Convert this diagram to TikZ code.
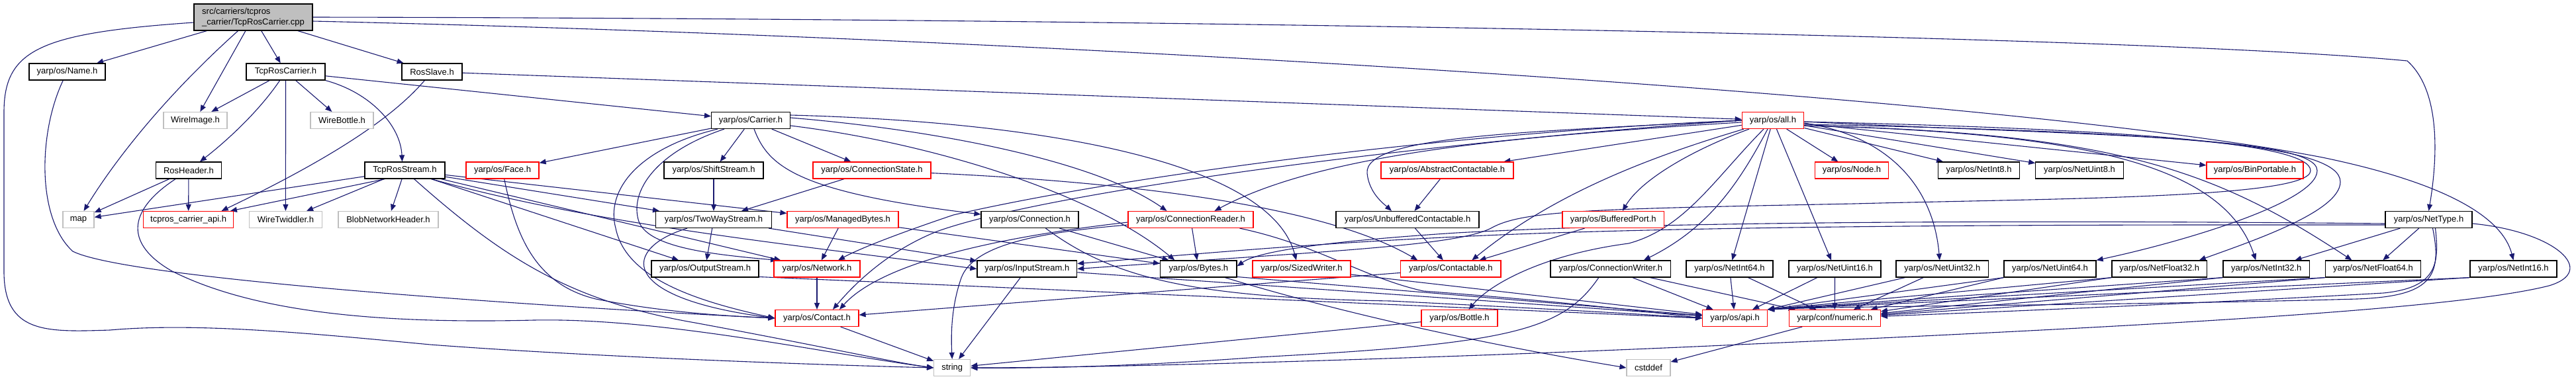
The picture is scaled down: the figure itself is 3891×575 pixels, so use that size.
\documentclass[tikz,border=0pt]{standalone}
\usepackage{fontspec}
\setmainfont{Liberation Sans}
\usetikzlibrary{arrows.meta}
\pgfdeclarelayer{bg}
\pgfsetlayers{bg,main}
\definecolor{edgec}{HTML}{191970}
\definecolor{redc}{HTML}{FF0000}
\definecolor{grayc}{HTML}{BFBFBF}
\begin{document}
\begin{tikzpicture}[x=0.5pt,y=-0.5pt,
  font=\fontsize{6.5pt}{8.3pt}\selectfont,
  box/.style={line width=0.6pt, fill=white, inner sep=0pt, minimum height=12.5pt},
  kbox/.style={box, draw=black},
  rbox/.style={box, draw=redc},
  gbox/.style={box, draw=grayc},
  bw/.style={minimum width=#1*0.5pt},
  ed/.style={draw=edgec, line width=0.55pt, -{Triangle[length=5pt,width=4pt]}}]
\useasboundingbox (0,0) rectangle (3891,575);
\begin{pgfonlayer}{bg}
\fill[white] (0,0) rectangle (3891,575);
\end{pgfonlayer}
% nodes
\node[draw=black, fill=grayc, line width=0.6pt, inner sep=0pt, minimum width=89.5pt, minimum height=20pt, align=left] (root) at (382.5,26) {src/carriers/tcpros\\\_carrier/TcpRosCarrier.cpp};
\node[kbox,bw=115] (name) at (101.5,108.5) {yarp/os/Name.h};
\node[kbox,bw=119] (trc) at (431.5,108.5) {TcpRosCarrier.h};
\node[kbox,bw=91] (rosslave) at (652.5,108.5) {RosSlave.h};
\node[gbox,bw=96] (wireimage) at (295,182) {WireImage.h};
\node[gbox,bw=95] (wirebottle) at (516.5,182) {WireBottle.h};
\node[kbox,bw=119] (carrier) at (1134,182) {yarp/os/Carrier.h};
\node[rbox,bw=93.5] (allh) at (2678,182) {yarp/os/all.h};
\node[kbox,bw=98.5] (rosheader) at (285,257.5) {RosHeader.h};
\node[kbox,bw=121] (trs) at (611.5,257.5) {TcpRosStream.h};
\node[rbox,bw=110] (face) at (759,257.5) {yarp/os/Face.h};
\node[kbox,bw=150] (shift) at (1078,257.5) {yarp/os/ShiftStream.h};
\node[rbox,bw=178] (connstate) at (1317,257.5) {yarp/os/ConnectionState.h};
\node[rbox,bw=200] (abscont) at (2186,257.5) {yarp/os/AbstractContactable.h};
\node[rbox,bw=111] (nodeh) at (2797,257.5) {yarp/os/Node.h};
\node[kbox,bw=123.5] (netint8) at (2989,257.5) {yarp/os/NetInt8.h};
\node[kbox,bw=132.5] (netuint8) at (3141,257.5) {yarp/os/NetUint8.h};
\node[rbox,bw=146] (binport) at (3406,257.5) {yarp/os/BinPortable.h};
\node[gbox,bw=47] (map) at (118.5,332) {map};
\node[rbox,bw=136.4] (tcpapi) at (284.6,332) {tcpros\_carrier\_api.h};
\node[gbox,bw=110] (wiretw) at (431.4,332) {WireTwiddler.h};
\node[gbox,bw=151] (blob) at (586.5,332) {BlobNetworkHeader.h};
\node[kbox,bw=174.6] (twoway) at (1078,332) {yarp/os/TwoWayStream.h};
\node[rbox,bw=168] (managed) at (1273,332) {yarp/os/ManagedBytes.h};
\node[kbox,bw=147] (connection) at (1555.5,332) {yarp/os/Connection.h};
\node[rbox,bw=189] (connreader) at (1798.5,332) {yarp/os/ConnectionReader.h};
\node[kbox,bw=216] (unbuf) at (2126,332) {yarp/os/UnbufferedContactable.h};
\node[rbox,bw=153.5] (bufport) at (2436.7,332) {yarp/os/BufferedPort.h};
\node[kbox,bw=131] (nettype) at (3668.5,332) {yarp/os/NetType.h};
\node[kbox,bw=162] (output) at (1065,406.5) {yarp/os/OutputStream.h};
\node[rbox,bw=130] (network) at (1234,406.5) {yarp/os/Network.h};
\node[kbox,bw=150.7] (input) at (1551.3,406.5) {yarp/os/InputStream.h};
\node[kbox,bw=115.4] (bytes) at (1810.3,406.5) {yarp/os/Bytes.h};
\node[rbox,bw=148] (sized) at (1966,406.5) {yarp/os/SizedWriter.h};
\node[rbox,bw=151.3] (contactable) at (2191.3,406.5) {yarp/os/Contactable.h};
\node[kbox,bw=181.6] (connwriter) at (2432.8,406.5) {yarp/os/ConnectionWriter.h};
\node[kbox,bw=131] (netint64) at (2612.5,406.5) {yarp/os/NetInt64.h};
\node[kbox,bw=139] (netuint16) at (2771.5,406.5) {yarp/os/NetUint16.h};
\node[kbox,bw=139.6] (netuint32) at (2933.8,406.5) {yarp/os/NetUint32.h};
\node[kbox,bw=139] (netuint64) at (3096.5,406.5) {yarp/os/NetUint64.h};
\node[kbox,bw=143.5] (netfloat32) at (3261.7,406.5) {yarp/os/NetFloat32.h};
\node[kbox,bw=130.7] (netint32) at (3423.3,406.5) {yarp/os/NetInt32.h};
\node[kbox,bw=144] (netfloat64) at (3584.5,406.5) {yarp/os/NetFloat64.h};
\node[kbox,bw=131] (netint16) at (3796.5,406.5) {yarp/os/NetInt16.h};
\node[rbox,bw=126] (contact) at (1234,481) {yarp/os/Contact.h};
\node[rbox,bw=115] (bottle) at (2204.5,481) {yarp/os/Bottle.h};
\node[rbox,bw=97.7] (api) at (2620.5,481) {yarp/os/api.h};
\node[rbox,bw=138] (numeric) at (2771.3,481) {yarp/conf/numeric.h};
\node[gbox,bw=55] (string) at (1438.2,556) {string};
\node[gbox,bw=66] (cstddef) at (2490,556) {cstddef};
% edges
\begin{pgfonlayer}{bg}
% root
\draw[ed] (root) -- (name);
\draw[ed] (root) .. controls (250,145) and (175,240) .. (map);
\draw[ed] (root) -- (wireimage);
\draw[ed] (root) -- (trc);
\draw[ed] (root) -- (rosslave);
\draw[ed] ([yshift=-4pt]root.west) .. controls (60,50) and (6,75) .. (6,170) -- (6,410) .. controls (6,505) and (70,502) .. (166,499) .. controls (300,487) and (480,505) .. (650,521) .. controls (900,540) and (1250,552) .. (string.west);
\draw[ed] (root.east) .. controls (1800,28) and (3250,55) .. (3636,92) .. controls (3690,140) and (3680,250) .. (nettype.north);
\draw[ed] ([yshift=-3pt]root.east) .. controls (1500,55) and (3000,140) .. (3508,238) .. controls (3700,278) and (3780,330) .. (netint16.north);
% name
\draw[ed] (name) .. controls (58,200) and (55,330) .. (110,380) .. controls (200,425) and (900,468) .. (contact.west);
% TcpRosCarrier.h
\draw[ed] (trc) -- (wireimage);
\draw[ed] (trc) .. controls (390,170) and (340,215) .. (rosheader);
\draw[ed] (trc) -- (wiretw);
\draw[ed] (trc) -- (wirebottle);
\draw[ed] (trc.south east) .. controls (560,140) and (605,190) .. ([xshift=-2pt]trs.north);
\draw[ed] (trc) -- (carrier);
% RosSlave.h
\draw[ed] (rosslave) -- (allh);
\draw[ed] (rosslave) .. controls (600,170) and (520,230) .. ([xshift=25pt]tcpapi.north);
% RosHeader.h
\draw[ed] (rosheader) -- (map);
\draw[ed] (rosheader) -- (tcpapi);
\draw[ed] (rosheader) .. controls (190,320) and (190,370) .. (260,410) .. controls (380,470) and (560,490) .. (806,484) .. controls (1000,480) and (1250,535) .. (string.west);
% TcpRosStream.h
\draw[ed] (trs) -- (map);
\draw[ed] ([xshift=-15pt]trs.south) -- (tcpapi);
\draw[ed] (trs) -- (wiretw);
\draw[ed] (trs) -- (blob);
\draw[ed] ([xshift=7pt]trs.south) .. controls (760,390) and (860,455) .. (1050,488) .. controls (1250,525) and (1350,548) .. (string.west);
\draw[ed] (trs) -- (managed);
\draw[ed] (trs) -- (twoway);
\draw[ed] (trs) -- (output);
\draw[ed] (trs) -- (network);
\draw[ed] ([xshift=20pt]trs.south) .. controls (900,340) and (1200,370) .. (input.west);
% Carrier.h
\draw[ed] (carrier) -- (face);
\draw[ed] (carrier) -- (shift);
\draw[ed] (carrier) -- (connstate);
\draw[ed] ([xshift=-25pt]carrier.south) .. controls (960,225) and (915,290) .. (930,345) .. controls (945,420) and (1050,455) .. (contact.west);
\draw[ed] ([xshift=-20pt]carrier.south) .. controls (990,230) and (950,290) .. (965,335) .. controls (980,375) and (1080,385) .. ([xshift=-30pt]network.north);
\draw[ed] (carrier) .. controls (1160,250) and (1200,290) .. ([yshift=4pt]connection.west);
\draw[ed] ([yshift=-4pt]carrier.east) .. controls (1400,215) and (1650,290) .. ([xshift=-18pt]bytes.north);
\draw[ed] ([yshift=2pt]carrier.east) .. controls (1400,195) and (1650,240) .. ([xshift=-18pt]connreader.north);
\draw[ed] ([yshift=4pt]carrier.east) .. controls (1600,185) and (1920,250) .. ([xshift=-4pt]sized.north);
% row 3 middle
\draw[ed] (shift) -- (twoway);
\draw[ed] (connstate) -- (twoway);
\draw[ed] (connstate) .. controls (1700,275) and (2000,310) .. ([xshift=-25pt]contactable.north);
\draw[ed] (face) .. controls (780,360) and (810,430) .. (900,452) .. controls (1000,472) and (1100,478) .. (contact.west);
% TwoWayStream.h
\draw[ed] (twoway) -- (output);
\draw[ed] (twoway) -- (input);
\draw[ed] ([xshift=-20pt]twoway.south) .. controls (940,375) and (930,450) .. (contact.west);
% ManagedBytes.h
\draw[ed] (managed) -- (network);
\draw[ed] (managed) -- (bytes);
\draw[ed] (network) -- (contact);
% Connection.h
\draw[ed] (connection) -- (bytes);
\draw[ed] ([xshift=12pt]connection.south) .. controls (1680,420) and (1800,450) .. (2100,455) .. controls (2300,465) and (2450,473) .. (api.west);
% ConnectionReader.h
\draw[ed] (connreader) -- (bytes);
\draw[ed] ([yshift=-4pt]connreader.west) .. controls (1560,352) and (1470,372) .. (1452,420) .. controls (1438,460) and (1436,500) .. (string.north);
\draw[ed] ([yshift=-2pt]connreader.west) .. controls (1450,365) and (1320,410) .. ([xshift=17pt]contact.north);
\draw[ed] ([xshift=37pt]connreader.south) .. controls (1990,370) and (2060,420) .. (2150,440) .. controls (2350,455) and (2480,470) .. (api.west);
% row 5 left
\draw[ed] (input) -- (string);
\draw[ed] (input) -- (api);
\draw[ed] ([yshift=-6pt]output.east) -- (api.west);
\draw[ed] ([yshift=-6pt]bytes.east) -- (api);
\draw[ed] ([xshift=20pt]bytes.south) .. controls (1950,450) and (2150,505) .. (cstddef.west);
\draw[ed] (sized) -- (api);
\draw[ed] (contactable) -- (contact);
\draw[ed] (unbuf) -- (contactable);
\draw[ed] (abscont) -- (unbuf);
\draw[ed] (bufport) -- (contactable);
\draw[ed] (connwriter) -- (api);
\draw[ed] (connwriter) -- (numeric);
\draw[ed] ([xshift=-9pt]connwriter.south) .. controls (2360,500) and (2280,520) .. (1900,540) .. controls (1700,555) and (1550,557) .. (string.east);
\draw[ed] (bottle) -- (string);
\draw[ed] (contact) -- (string);
\draw[ed] (numeric) -- (cstddef);
% all.h
\draw[ed] ([xshift=-7pt]allh.south) .. controls (2590,270) and (2545,345) .. (2460,368) .. controls (2330,385) and (2250,430) .. ([xshift=7pt]bottle.north);
\draw[ed] ([xshift=-4pt]allh.south) .. controls (2625,280) and (2580,345) .. ([xshift=25pt]connwriter.north);
\draw[ed] (allh) .. controls (2500,235) and (2350,290) .. ([xshift=16pt]contactable.north);
\draw[ed] (allh) .. controls (2560,225) and (2480,270) .. ([xshift=7pt]bufport.north);
\draw[ed] (allh) -- (abscont);
\draw[ed] (allh.west) .. controls (2300,200) and (2060,205) .. (2065,262) .. controls (2068,292) and (2090,308) .. ([xshift=-12pt]unbuf.north);
\draw[ed] (allh) .. controls (2300,205) and (2000,230) .. ([xshift=18pt]connreader.north);
\draw[ed] (allh.west) .. controls (2200,200) and (1700,265) .. (1440,325) .. controls (1360,352) and (1300,375) .. ([xshift=16pt]network.north);
\draw[ed] (allh.west) .. controls (2150,215) and (1580,290) .. (1415,350) .. controls (1340,380) and (1290,430) .. ([xshift=12pt]contact.north);
\draw[ed] (allh) -- (nodeh);
\draw[ed] (allh) -- (netint8);
\draw[ed] (allh) -- (netuint8);
\draw[ed] (allh) -- (netint64);
\draw[ed] (allh) -- (netuint16);
\draw[ed] ([yshift=-2pt]allh.east) .. controls (2850,205) and (2920,280) .. ([xshift=-2pt]netuint32.north);
\draw[ed] (allh) -- (binport);
\draw[ed] ([yshift=-1pt]allh.east) .. controls (3150,205) and (3500,205) .. (3500,258) .. controls (3500,305) and (3300,365) .. (netuint64.north east);
\draw[ed] ([yshift=-3pt]allh.east) .. controls (3300,200) and (3535,220) .. (3535,275) .. controls (3535,320) and (3400,365) .. ([xshift=30pt]netfloat32.north);
\draw[ed] ([yshift=-4pt]allh.east) .. controls (3150,200) and (3360,250) .. ([xshift=-8pt]netint32.north);
\draw[ed] ([yshift=-4pt]allh.east) .. controls (3200,200) and (3350,260) .. ([xshift=-16pt]netfloat64.north);
\draw[ed] ([yshift=-1pt]allh.east) .. controls (3200,195) and (3490,215) .. (3490,258) .. controls (3490,300) and (3100,300) .. (2800,308) .. controls (2400,316) and (2300,318) .. (2252,345) .. controls (2200,372) and (2000,380) .. (input.east);
% NetType.h
\draw[ed] (nettype) -- (netint32);
\draw[ed] (nettype) -- (netfloat64);
\draw[ed] ([yshift=-3pt]nettype.west) .. controls (3300,335) and (2600,330) .. (2200,352) .. controls (2000,365) and (1900,380) .. ([yshift=2pt]bytes.east);
\draw[ed] ([yshift=-4pt]nettype.west) .. controls (3300,340) and (2600,338) .. (2200,358) .. controls (1950,370) and (1800,385) .. ([yshift=4pt]input.east);
\draw[ed] ([yshift=-3pt]nettype.east) .. controls (3860,350) and (3925,410) .. (3850,432) .. controls (3700,470) and (3200,495) .. (2560,524) .. controls (2200,540) and (1700,556) .. (string.east);
\draw[ed] ([xshift=5pt]nettype.south) .. controls (3685,400) and (3680,435) .. (3600,443) .. controls (3300,460) and (3000,472) .. (numeric);
\draw[ed] ([xshift=3pt]nettype.south) .. controls (3690,420) and (3670,448) .. (3560,452) .. controls (3200,462) and (2800,462) .. (api.north east);
% Net* headers
\draw[ed] (netint64) -- (api);
\draw[ed] (netint64) -- (numeric);
\draw[ed] (netuint16) -- (api);
\draw[ed] (netuint16) -- (numeric);
\draw[ed] (netuint32) -- (api.north east);
\draw[ed] (netuint32) -- (numeric);
\draw[ed] (netuint64.south west) -- (api.north east);
\draw[ed] (netuint64.south west) -- (numeric);
\draw[ed] (netfloat32.south west) -- (api.north east);
\draw[ed] (netfloat32.south west) -- (numeric);
\draw[ed] (netint32.south west) -- (api.north east);
\draw[ed] (netint32.south west) -- (numeric);
\draw[ed] (netfloat64.south west) -- (api.north east);
\draw[ed] (netfloat64.south west) -- (numeric);
\draw[ed] (netint16.south west) -- (api.north east);
\draw[ed] (netint16.south west) -- (numeric);
\end{pgfonlayer}
\end{tikzpicture}
\end{document}
